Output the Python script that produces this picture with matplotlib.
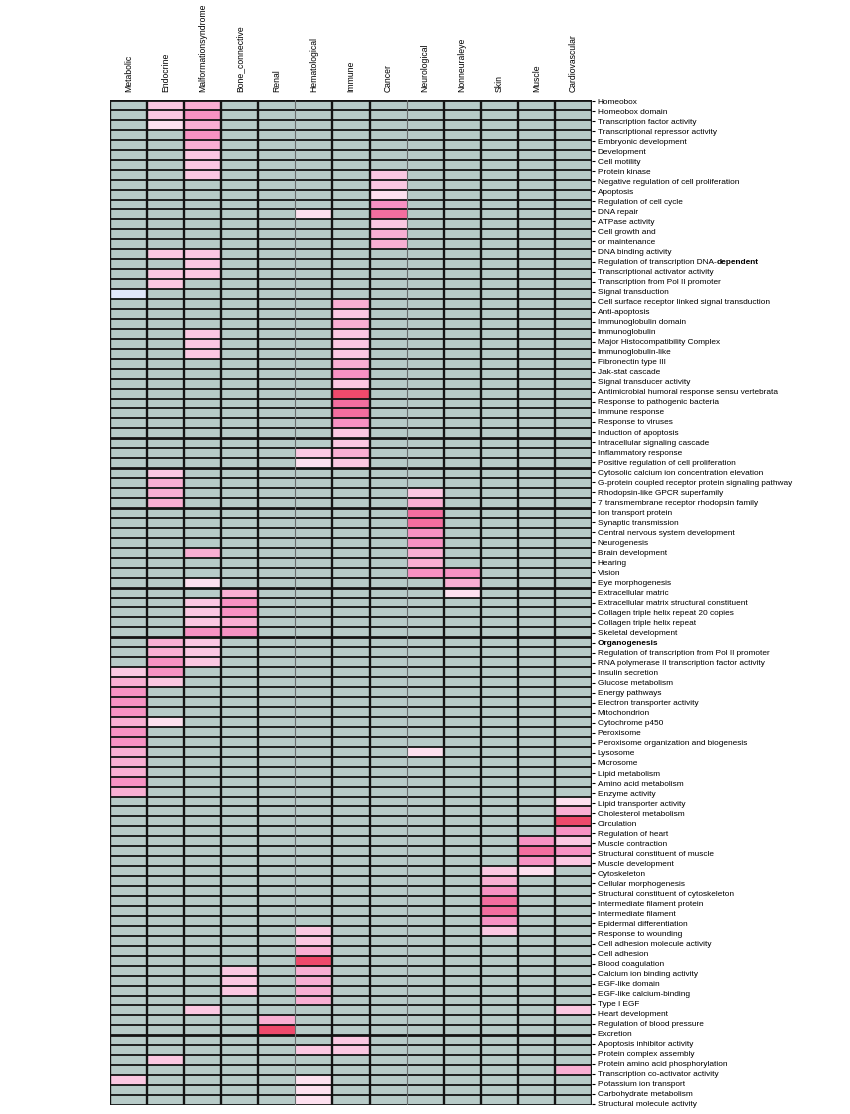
import numpy as np
import matplotlib
matplotlib.use("Agg")
import matplotlib.pyplot as plt
from matplotlib.colors import ListedColormap, BoundaryNorm

plt.rcParams['font.family'] = ['Liberation Sans', 'DejaVu Sans']

diseases = ["Metabolic", "Endocrine", "Malformationsyndrome", "Bone_connective", "Renal",
            "Hematological", "Immune", "Cancer", "Neurological", "Nonneuraleye", "Skin",
            "Muscle", "Cardiovascular"]

terms = [
    "Homeobox", "Homeobox domain", "Transcription factor activity",
    "Transcriptional repressor activity", "Embryonic development", "Development",
    "Cell motility", "Protein kinase", "Negative regulation of cell proliferation",
    "Apoptosis", "Regulation of cell cycle", "DNA repair", "ATPase activity",
    "Cell growth and", "or maintenance", "DNA binding activity",
    "Regulation of transcription DNA-dependent", "Transcriptional activator activity",
    "Transcription from Pol II promoter", "Signal transduction",
    "Cell surface receptor linked signal transduction", "Anti-apoptosis",
    "Immunoglobulin domain", "Immunoglobulin", "Major Histocompatibility Complex",
    "Immunoglobulin-like", "Fibronectin type III", "Jak-stat cascade",
    "Signal transducer activity", "Antimicrobial humoral response sensu vertebrata",
    "Response to pathogenic bacteria", "Immune response", "Response to viruses",
    "Induction of apoptosis", "Intracellular signaling cascade", "Inflammatory response",
    "Positive regulation of cell proliferation",
    "Cytosolic calcium ion concentration elevation",
    "G-protein coupled receptor protein signaling pathway",
    "Rhodopsin-like GPCR superfamily", "7 transmembrane receptor rhodopsin family",
    "Ion transport protein", "Synaptic transmission",
    "Central nervous system development", "Neurogenesis", "Brain development",
    "Hearing", "Vision", "Eye morphogenesis", "Extracellular matric",
    "Extracellular matrix structural constituent",
    "Collagen triple helix repeat 20 copies", "Collagen triple helix repeat",
    "Skeletal development", "Organogenesis",
    "Regulation of transcription from Pol II promoter",
    "RNA polymerase II transcription factor activity", "Insulin secretion",
    "Glucose metabolism", "Energy pathways", "Electron transporter activity",
    "Mitochondrion", "Cytochrome p450", "Peroxisome",
    "Peroxisome organization and biogenesis", "Lysosome", "Microsome",
    "Lipid metabolism", "Amino acid metabolism", "Enzyme activity",
    "Lipid transporter activity", "Cholesterol metabolism", "Circulation",
    "Regulation of heart", "Muscle contraction", "Structural constituent of muscle",
    "Muscle development", "Cytoskeleton", "Cellular morphogenesis",
    "Structural constituent of cytoskeleton", "Intermediate filament protein",
    "Intermediate filament", "Epidermal differentiation", "Response to wounding",
    "Cell adhesion molecule activity", "Cell adhesion", "Blood coagulation",
    "Calcium ion binding activity", "EGF-like domain", "EGF-like calcium-binding",
    "Type I EGF", "Heart development", "Regulation of blood pressure", "Excretion",
    "Apoptosis inhibitor activity", "Protein complex assembly",
    "Protein amino acid phosphorylation", "Transcription co-activator activity",
    "Potassium ion transport", "Carbohydrate metabolism", "Structural molecule activity",
]

# enrichment level per disease class (-1 = under-represented, 1..6 = weak..strong)
metabolic = {"Signal transduction": -1, "Insulin secretion": 2, "Glucose metabolism": 3,
             "Energy pathways": 4, "Electron transporter activity": 4, "Mitochondrion": 4,
             "Cytochrome p450": 3, "Peroxisome": 4,
             "Peroxisome organization and biogenesis": 4, "Lysosome": 3, "Microsome": 3,
             "Lipid metabolism": 3, "Amino acid metabolism": 4, "Enzyme activity": 3,
             "Potassium ion transport": 2}
endocrine = {"Homeobox": 2, "Homeobox domain": 2, "Transcription factor activity": 1,
             "DNA binding activity": 2, "Transcriptional activator activity": 2,
             "Transcription from Pol II promoter": 2,
             "Cytosolic calcium ion concentration elevation": 2,
             "G-protein coupled receptor protein signaling pathway": 3,
             "Rhodopsin-like GPCR superfamily": 3,
             "7 transmembrane receptor rhodopsin family": 3, "Organogenesis": 3,
             "Regulation of transcription from Pol II promoter": 3,
             "RNA polymerase II transcription factor activity": 4, "Insulin secretion": 4,
             "Glucose metabolism": 2, "Cytochrome p450": 1,
             "Protein amino acid phosphorylation": 2}
malformation = {"Homeobox": 3, "Homeobox domain": 4, "Transcription factor activity": 3,
                "Transcriptional repressor activity": 4, "Embryonic development": 3,
                "Development": 2, "Cell motility": 2, "Protein kinase": 2,
                "DNA binding activity": 2, "Regulation of transcription DNA-dependent": 2,
                "Transcriptional activator activity": 2, "Immunoglobulin": 2,
                "Major Histocompatibility Complex": 2, "Immunoglobulin-like": 2,
                "Brain development": 3, "Eye morphogenesis": 1,
                "Extracellular matrix structural constituent": 2,
                "Collagen triple helix repeat 20 copies": 2,
                "Collagen triple helix repeat": 2, "Skeletal development": 4,
                "Organogenesis": 2, "Regulation of transcription from Pol II promoter": 2,
                "RNA polymerase II transcription factor activity": 2,
                "Heart development": 2}
bone = {"Extracellular matric": 3, "Extracellular matrix structural constituent": 4,
        "Collagen triple helix repeat 20 copies": 4, "Collagen triple helix repeat": 3,
        "Skeletal development": 4, "Calcium ion binding activity": 2,
        "EGF-like domain": 2, "EGF-like calcium-binding": 2}
renal = {"Regulation of blood pressure": 3, "Excretion": 6}
hematological = {"DNA repair": 1, "Inflammatory response": 2,
                 "Positive regulation of cell proliferation": 1,
                 "Response to wounding": 2, "Cell adhesion molecule activity": 2,
                 "Cell adhesion": 3, "Blood coagulation": 6,
                 "Calcium ion binding activity": 3, "EGF-like domain": 3,
                 "EGF-like calcium-binding": 3, "Type I EGF": 3,
                 "Protein complex assembly": 2,
                 "Potassium ion transport": 1, "Carbohydrate metabolism": 1,
                 "Structural molecule activity": 1}
immune = {"Cell surface receptor linked signal transduction": 3, "Anti-apoptosis": 2,
          "Immunoglobulin domain": 3, "Immunoglobulin": 2,
          "Major Histocompatibility Complex": 2, "Immunoglobulin-like": 2,
          "Fibronectin type III": 3, "Jak-stat cascade": 4,
          "Signal transducer activity": 2,
          "Antimicrobial humoral response sensu vertebrata": 6,
          "Response to pathogenic bacteria": 5, "Immune response": 5,
          "Response to viruses": 4, "Induction of apoptosis": 2,
          "Intracellular signaling cascade": 2, "Inflammatory response": 3,
          "Positive regulation of cell proliferation": 2,
          "Apoptosis inhibitor activity": 2, "Protein complex assembly": 2}
cancer = {"Protein kinase": 2, "Negative regulation of cell proliferation": 2,
          "Apoptosis": 1, "Regulation of cell cycle": 4, "DNA repair": 5,
          "ATPase activity": 2, "Cell growth and": 3, "or maintenance": 3}
neurological = {"Rhodopsin-like GPCR superfamily": 2,
                "7 transmembrane receptor rhodopsin family": 3,
                "Ion transport protein": 5, "Synaptic transmission": 5,
                "Central nervous system development": 4, "Neurogenesis": 4,
                "Brain development": 3, "Hearing": 3, "Vision": 4, "Lysosome": 1}
nonneuraleye = {"Vision": 4, "Eye morphogenesis": 3, "Extracellular matric": 1}
skin = {"Cytoskeleton": 2, "Cellular morphogenesis": 3,
        "Structural constituent of cytoskeleton": 4, "Intermediate filament protein": 5,
        "Intermediate filament": 5, "Epidermal differentiation": 4,
        "Response to wounding": 2}
muscle = {"Muscle contraction": 4, "Structural constituent of muscle": 5,
          "Muscle development": 4, "Cytoskeleton": 1}
cardiovascular = {"Lipid transporter activity": 1, "Cholesterol metabolism": 3,
                  "Circulation": 6, "Regulation of heart": 4, "Muscle contraction": 2,
                  "Structural constituent of muscle": 4, "Muscle development": 2,
                  "Heart development": 2, "Transcription co-activator activity": 3}

columns = [metabolic, endocrine, malformation, bone, renal, hematological, immune,
           cancer, neurological, nonneuraleye, skin, muscle, cardiovascular]

grid = np.zeros((len(terms), len(diseases)))
for j, col in enumerate(columns):
    for term, lv in col.items():
        grid[terms.index(term), j] = lv

palette = ["#e1e7fa", "#b7cbc8", "#fde0ef", "#fbc8e2", "#f9afd3", "#f792c3",
           "#f36e9f", "#ee4a6c"]
cmap = ListedColormap(palette)
norm = BoundaryNorm(np.arange(-1.5, 7.5, 1), cmap.N)

fig = plt.figure(figsize=(8.5, 11.14), dpi=100)
ax = fig.add_axes([0.1294, 0.0081, 0.5671, 0.9021])
nrow, ncol = grid.shape
ax.pcolormesh(np.arange(ncol + 1), np.arange(nrow + 1), grid, cmap=cmap, norm=norm)
ax.set_xlim(0, ncol)
ax.set_ylim(nrow, 0)

# grid lines
thick_rows = [0, 34, 37, 41, 49, 54, 94, nrow]
for r in range(nrow + 1):
    ax.axhline(r, color="#141414", lw=2.0 if r in thick_rows else 1.3, zorder=3)
for c in range(ncol + 1):
    if c in (5, 8):
        ax.axvline(c, color="#6a6f6f", lw=0.8, zorder=4)
    else:
        ax.axvline(c, color="#141414", lw=1.7, zorder=4)

for s in ax.spines.values():
    s.set_visible(False)

ax.xaxis.tick_top()
ax.set_xticks(np.arange(ncol) + 0.5)
ax.set_xticklabels(diseases, rotation=90, fontsize=6.2)
ax.tick_params(axis="x", length=0, pad=6)

# the label column is spaced slightly wider than the rows
ax.yaxis.tick_right()
ax.set_yticks(0.1 + 1.008 * np.arange(nrow))
ylabels = [t if t != "Regulation of transcription DNA-dependent"
           else "Regulation of transcription DNA-" for t in terms]
ax.set_yticklabels(ylabels, fontsize=5.95)
ax.tick_params(axis="y", length=2.5, width=0.8, pad=1.5)
for lab in ax.get_yticklabels():
    if lab.get_text() == "Organogenesis":
        lab.set_fontweight("bold")
fig.canvas.draw()
dep = [l for l in ax.get_yticklabels() if l.get_text().endswith("DNA-")][0]
ax.annotate("dependent", xy=(1, 0.5), xycoords=dep, va="center", ha="left",
            fontsize=5.95, fontweight="bold")

fig.savefig("out.png", dpi=100)
